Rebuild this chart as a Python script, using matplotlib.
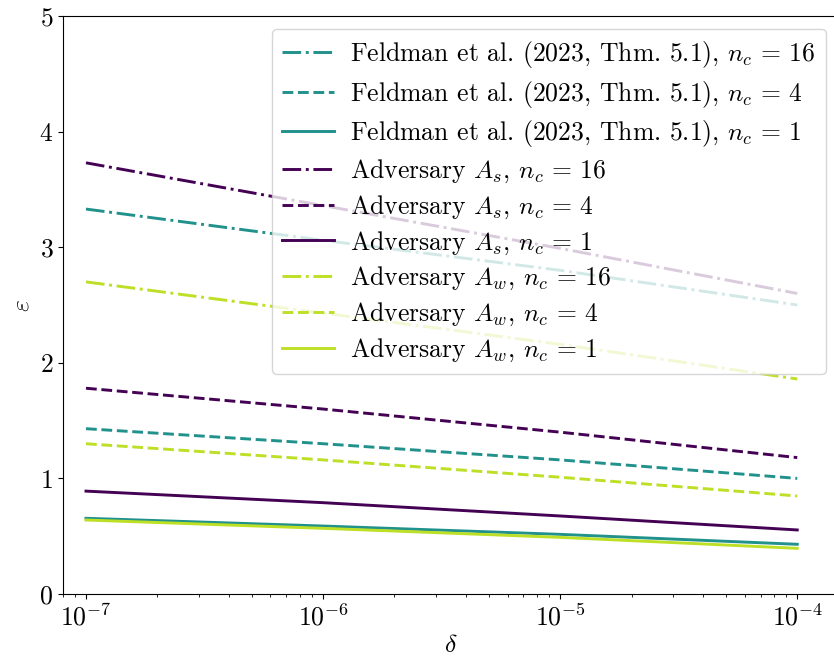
import matplotlib
matplotlib.use("Agg")
import matplotlib.pyplot as plt
import numpy as np

plt.rcParams['font.family'] = ['cmr10', 'DejaVu Serif']
plt.rcParams['mathtext.fontset'] = 'cm'
plt.rcParams['axes.formatter.use_mathtext'] = True
plt.rcParams['font.size'] = 18.5

delta = [1e-7, 1e-6, 1e-5, 1e-4]

feldman_16 = [3.33, 3.06, 2.80, 2.50]
feldman_4 = [1.43, 1.30, 1.16, 1.00]
feldman_1 = [0.655, 0.588, 0.516, 0.43]
as_16 = [3.73, 3.36, 2.99, 2.60]
as_4 = [1.78, 1.60, 1.40, 1.18]
as_1 = [0.89, 0.79, 0.675, 0.554]
aw_16 = [2.70, 2.43, 2.16, 1.86]
aw_4 = [1.30, 1.16, 1.01, 0.848]
aw_1 = [0.64, 0.568, 0.49, 0.395]

c_f = plt.cm.viridis(0.5)
c_s = plt.cm.viridis(0.0)
c_w = plt.cm.viridis(0.9)

fig = plt.figure(figsize=(8.34, 6.58), dpi=100)
ax = fig.add_axes([63/834, 64/658, 776/834, 578/658])

lw = 2.1
series = [
    (feldman_16, c_f, '-.', r'Feldman et al. (2023, Thm. 5.1), $n_c\,=\,16$'),
    (feldman_4, c_f, '--', r'Feldman et al. (2023, Thm. 5.1), $n_c\,=\,4$'),
    (feldman_1, c_f, '-', r'Feldman et al. (2023, Thm. 5.1), $n_c\,=\,1$'),
    (as_16, c_s, '-.', r'Adversary $A_s$, $n_c\,=\,16$'),
    (as_4, c_s, '--', r'Adversary $A_s$, $n_c\,=\,4$'),
    (as_1, c_s, '-', r'Adversary $A_s$, $n_c\,=\,1$'),
    (aw_16, c_w, '-.', r'Adversary $A_w$, $n_c\,=\,16$'),
    (aw_4, c_w, '--', r'Adversary $A_w$, $n_c\,=\,4$'),
    (aw_1, c_w, '-', r'Adversary $A_w$, $n_c\,=\,1$'),
]
for vals, c, ls, lab in series:
    ax.plot(delta, vals, color=c, linestyle=ls, linewidth=lw, label=lab)

ax.set_xscale('log')
ax.set_xlim(8e-8, 1.5e-4)
ax.set_ylim(0, 5)
ax.set_xlabel(r'$\delta$', labelpad=2)
ax.set_ylabel(r'$\varepsilon$')
ax.legend(loc='upper right', labelspacing=0.33, handletextpad=0.65)

fig.savefig('out.png', dpi=100)
